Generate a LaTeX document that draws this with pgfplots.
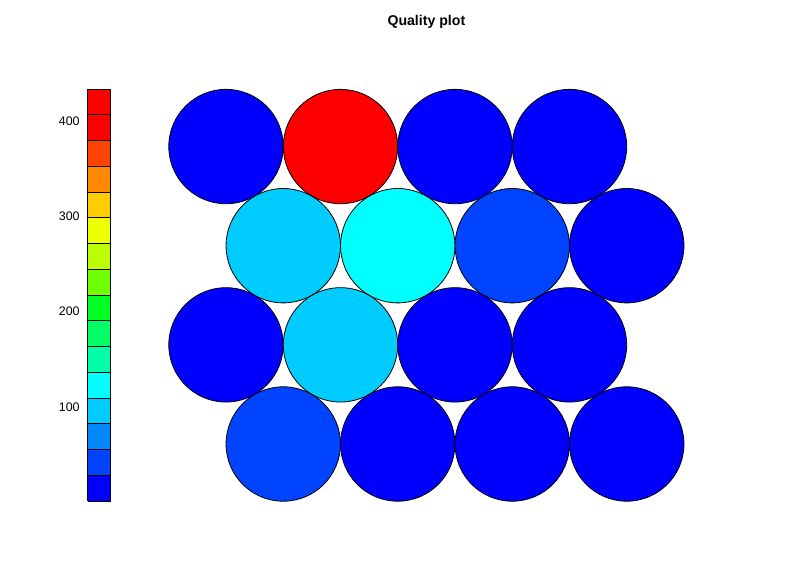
\documentclass[border=0pt]{standalone}
\usepackage{fontspec}
\setmainfont{Liberation Sans}
\usepackage{pgfplots}
\pgfplotsset{compat=1.18}
\usepackage{pgfplotstable}
\pgfplotstableread{
x y q
0 2.598 15
1 2.598 420
2 2.598 15
3 2.598 15
0.5 1.732 96
1.5 1.732 123
2.5 1.732 42
3.5 1.732 15
0 0.866 15
1 0.866 96
2 0.866 15
3 0.866 15
0.5 0 42
1.5 0 15
2.5 0 15
3.5 0 15
}\somdata
\begin{document}
\begin{tikzpicture}
\useasboundingbox (0,0) rectangle (597pt,421.5pt);
\begin{axis}[
  at={(117.98pt,36.98pt)}, anchor=south west,
  scale only axis, width=403.6pt, height=326.3pt,
  xmin=-0.6, xmax=4.1, ymin=-0.6, ymax=3.2,
  hide axis, clip=false,
  title={Quality plot},
  title style={font=\bfseries\fontsize{10.6}{12}\selectfont, at={(0.5,1)}, anchor=center, yshift=35.7pt},
  colormap={quality}{rgb255=(0,0,255) rgb255=(0,68,255) rgb255=(0,136,255) rgb255=(0,204,255)
    rgb255=(0,255,255) rgb255=(0,255,170) rgb255=(0,255,102) rgb255=(0,255,34)
    rgb255=(34,255,0) rgb255=(111,255,0) rgb255=(187,255,0) rgb255=(238,255,0)
    rgb255=(255,204,0) rgb255=(255,136,0) rgb255=(255,68,0) rgb255=(255,0,0) rgb255=(255,0,0)},
  colormap access=piecewise constant,
  point meta min=1.4, point meta max=433.4,
  colorbar left,
  colorbar sampled,
  colorbar style={
    samples=17,
    at={(parent axis.south west)}, anchor=south west,
    xshift=-43.73pt, yshift=8.78pt,
    scale only axis, width=17.25pt, height=309pt,
    axis on top,
    axis line style={black, line width=0.6pt},
    ytick={100,200,300,400},
    major tick length=0pt,
    yticklabel style={font=\fontsize{9.3}{10}\selectfont, xshift=-2.5pt},
    /pgf/number format/assume math mode=true,
    extra y ticks={28.4,55.4,82.4,109.4,136.4,163.4,190.4,217.4,244.4,271.4,298.4,325.4,352.4,379.4,406.4},
    extra y tick labels={},
    extra y tick style={grid=major, major grid style={black, line width=0.6pt}, major tick length=0pt},
  },
]
\addplot[scatter, only marks, mark=*, mark size=42.9pt,
  scatter/use mapped color={draw=black, fill=mapped color},
  mark options={line width=0.6pt},
  point meta=explicit] table[x=x, y=y, meta=q] {\somdata};
\end{axis}
\end{tikzpicture}
\end{document}
